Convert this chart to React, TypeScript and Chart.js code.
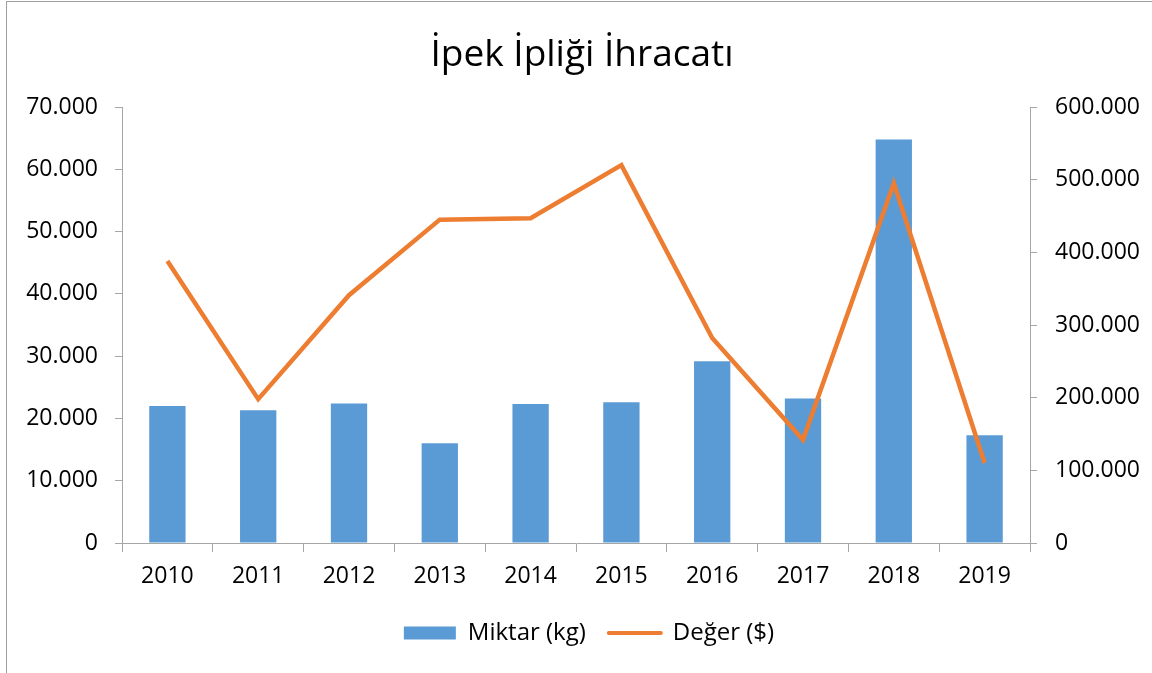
import React, { useEffect, useRef } from "react";
import { Chart, registerables } from "chart.js";

Chart.register(...registerables);

const TITLE = "İpek İpliği İhracatı";
const years = ["2010", "2011", "2012", "2013", "2014", "2015", "2016", "2017", "2018", "2019"];
const miktarKg = [22000, 21300, 22400, 16000, 22300, 22600, 29200, 23200, 64800, 17300];
const degerUsd = [388000, 198000, 341000, 445000, 447000, 520000, 282000, 142000, 495000, 110000];
const leftTicks = [0, 10000, 20000, 30000, 40000, 50000, 60000, 70000];
const rightTicks = [0, 100000, 200000, 300000, 400000, 500000, 600000];
const seriesNames = ["Miktar (kg)", "Değer ($)"];

const FONT = "'Open Sans', 'Noto Sans', sans-serif";
const AXIS_COLOR = "#a6a6a6";
const BAR_COLOR = "#5b9bd5";
const LINE_COLOR = "#ed7d31";

function fmt(v: number): string {
  return String(Math.round(v)).replace(/\B(?=(\d{3})+(?!\d))/g, ".");
}

const shiftBlocks = {
  id: "shiftBlocks",
  afterLayout(chart: any) {
    const lg = chart.legend;
    if (lg) {
      lg.left += 13;
      lg.right += 13;
    }
    const tb = chart.titleBlock;
    if (tb) {
      tb.left += 6;
      tb.right += 6;
    }
  },
};

export default function App() {
  const ref = useRef<HTMLCanvasElement | null>(null);

  useEffect(() => {
    if (!ref.current) return;
    const chart = new Chart(ref.current, {
      type: "bar",
      data: {
        labels: years,
        datasets: [
          {
            type: "bar",
            label: seriesNames[0],
            data: miktarKg,
            backgroundColor: BAR_COLOR,
            borderWidth: 0,
            yAxisID: "y",
            order: 1,
            categoryPercentage: 0.8,
            barPercentage: 0.5,
          },
          {
            type: "line",
            label: seriesNames[1],
            data: degerUsd,
            borderColor: LINE_COLOR,
            backgroundColor: LINE_COLOR,
            borderWidth: 4.5,
            pointRadius: 0,
            tension: 0,
            yAxisID: "y1",
            order: 0,
          } as any,
        ],
      },
      plugins: [shiftBlocks],
      options: {
        animation: false,
        responsive: false,
        layout: { padding: { top: 0, bottom: 18, left: 0, right: 0 } },
        plugins: {
          tooltip: { enabled: false },
          title: {
            display: true,
            text: TITLE,
            color: "#000",
            font: { family: FONT, size: 37, weight: "normal", lineHeight: 1.2 },
            padding: { top: 33, bottom: 29.6 },
          },
          legend: {
            position: "bottom",
            labels: {
              usePointStyle: true,
              pointStyleWidth: 52,
              boxHeight: 13,
              padding: 23,
              color: "#000",
              font: { family: FONT, size: 24 },
              generateLabels: (chart: any) => {
                const ds = chart.data.datasets;
                return ds.map((d: any, i: number) => ({
                  text: d.label,
                  datasetIndex: i,
                  fillStyle: i === 0 ? BAR_COLOR : LINE_COLOR,
                  strokeStyle: i === 0 ? BAR_COLOR : LINE_COLOR,
                  lineWidth: i === 0 ? 0 : 4,
                  lineCap: "round",
                  pointStyle: i === 0 ? "rect" : "line",
                  fontColor: "#000",
                  hidden: false,
                }));
              },
            },
          },
        },
        scales: {
          x: {
            offset: true,
            grid: {
              display: true,
              offset: true,
              drawOnChartArea: false,
              drawTicks: true,
              tickLength: 9,
              color: AXIS_COLOR,
            },
            border: { display: true, color: AXIS_COLOR, width: 1 },
            ticks: {
              color: "#000",
              padding: 11,
              maxRotation: 0,
              font: { family: FONT, size: 23 },
            },
            afterFit: (s: any) => {
              s.height = 55;
            },
          },
          y: {
            position: "left",
            min: 0,
            max: 70000,
            afterBuildTicks: (s: any) => {
              s.ticks = leftTicks.map((v) => ({ value: v }));
            },
            grid: {
              display: true,
              drawOnChartArea: false,
              drawTicks: true,
              tickLength: 7,
              color: AXIS_COLOR,
            },
            border: { display: true, color: AXIS_COLOR, width: 1 },
            ticks: {
              color: "#000",
              padding: 17,
              font: { family: FONT, size: 23 },
              callback: (v: any) => fmt(Number(v)),
            },
            afterFit: (s: any) => {
              s.width = 122;
            },
          },
          y1: {
            position: "right",
            min: 0,
            max: 600000,
            afterBuildTicks: (s: any) => {
              s.ticks = rightTicks.map((v) => ({ value: v }));
            },
            grid: {
              display: true,
              drawOnChartArea: false,
              drawTicks: true,
              tickLength: 7,
              color: AXIS_COLOR,
            },
            border: { display: true, color: AXIS_COLOR, width: 1 },
            ticks: {
              color: "#000",
              padding: 18,
              font: { family: FONT, size: 23 },
              callback: (v: any) => fmt(Number(v)),
            },
            afterFit: (s: any) => {
              s.width = 122;
            },
          },
        },
      },
    });
    return () => chart.destroy();
  }, []);

  return (
    <div
      style={{
        position: "fixed",
        left: 0,
        top: 0,
        width: 1152,
        height: 673,
        overflow: "hidden",
        background: "#fff",
      }}
    >
      <canvas ref={ref} width={1152} height={673} style={{ position: "absolute", left: 0, top: 0, width: 1152, height: 673 }} />
      <div
        style={{
          position: "absolute",
          left: 6,
          top: 1,
          width: 1300,
          height: 900,
          border: "1.5px solid #a0a0a0",
          boxSizing: "border-box",
          pointerEvents: "none",
        }}
      />
    </div>
  );
}
